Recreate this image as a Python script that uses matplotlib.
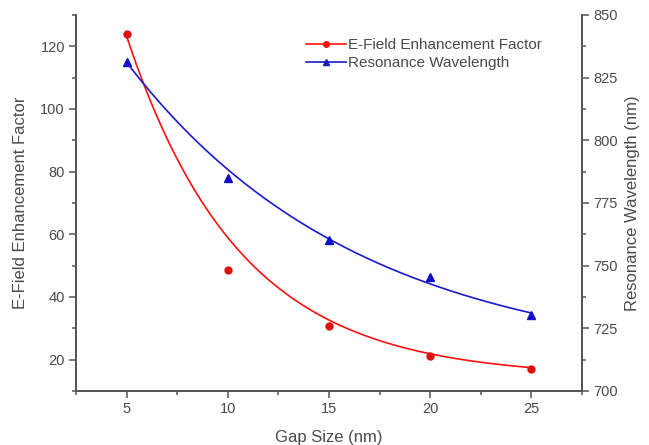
import matplotlib
matplotlib.use("Agg")
import matplotlib.pyplot as plt
from matplotlib.ticker import MultipleLocator, AutoMinorLocator
import numpy as np

plt.rcParams['font.family'] = ['Liberation Sans', 'DejaVu Sans']

gap = np.array([5, 10, 15, 20, 25])
enhancement = np.array([124.0, 48.6, 30.7, 21.2, 17.0])
wavelength = np.array([831.2, 785.0, 760.2, 745.5, 730.3])

# exponential decay fits drawn in the chart: y0 + A*exp(-x/t)
red_fit = {'y0': 14.4, 'A': 265.7, 't': 5.6}
blue_fit = {'y0': 709.8, 'A': 187.4, 't': 11.5}

text_col = '#4a4a4a'
spine_col = '#555555'


def decay(x, p):
    return p['y0'] + p['A'] * np.exp(-x / p['t'])


xs = np.linspace(gap.min(), gap.max(), 300)

fig = plt.figure(figsize=(6.49, 4.45), dpi=100)
ax = fig.add_axes([76 / 649, 54 / 445, 506 / 649, 376 / 445])
ax2 = ax.twinx()

ax.plot(xs, decay(xs, red_fit), color='#ff1010', lw=1.2)
ax.plot(gap, enhancement, 'o', color='#e01010', ms=5)
ax2.plot(xs, decay(xs, blue_fit), color='#1a1acc', lw=1.2)
ax2.plot(gap, wavelength, '^', color='#1010cc', ms=6)

ax.set_xlim(2.5, 27.5)
ax.set_ylim(10, 130)
ax2.set_ylim(700, 850)

ax.xaxis.set_major_locator(MultipleLocator(5))
ax.xaxis.set_minor_locator(AutoMinorLocator(2))
ax.yaxis.set_major_locator(MultipleLocator(20))
ax.yaxis.set_minor_locator(AutoMinorLocator(2))
ax2.yaxis.set_major_locator(MultipleLocator(25))
ax2.yaxis.set_minor_locator(AutoMinorLocator(2))

for a in (ax, ax2):
    a.spines['top'].set_visible(False)
    for s in a.spines.values():
        s.set_color(spine_col)
        s.set_linewidth(1.3)
    a.tick_params(which='major', direction='out', length=5, width=1.1,
                  color=spine_col, labelcolor=text_col, labelsize=10.5, pad=3)
    a.tick_params(which='minor', direction='out', length=3, width=1.1,
                  color=spine_col)

ax.set_xlabel('Gap Size (nm)', color=text_col, fontsize=12, labelpad=10)
ax.set_ylabel('E-Field Enhancement Factor', color=text_col, fontsize=12, labelpad=9)
ax2.set_ylabel('Resonance Wavelength (nm)', color=text_col, fontsize=12, labelpad=5)

h1, = ax.plot([], [], '-o', color='#ff1010', ms=4, lw=1.2)
h2, = ax.plot([], [], '-^', color='#1a1acc', ms=4.5, lw=1.2)
leg = fig.legend([h1, h2], ['E-Field Enhancement Factor', 'Resonance Wavelength'],
                 loc='upper left', bbox_to_anchor=(306 / 649, 1 - 38 / 445),
                 frameon=False, fontsize=11, handlelength=2.6, handletextpad=0.15,
                 labelspacing=0.28, borderpad=0, borderaxespad=0)
for t in leg.get_texts():
    t.set_color(text_col)

fig.savefig('out.png', dpi=100)
